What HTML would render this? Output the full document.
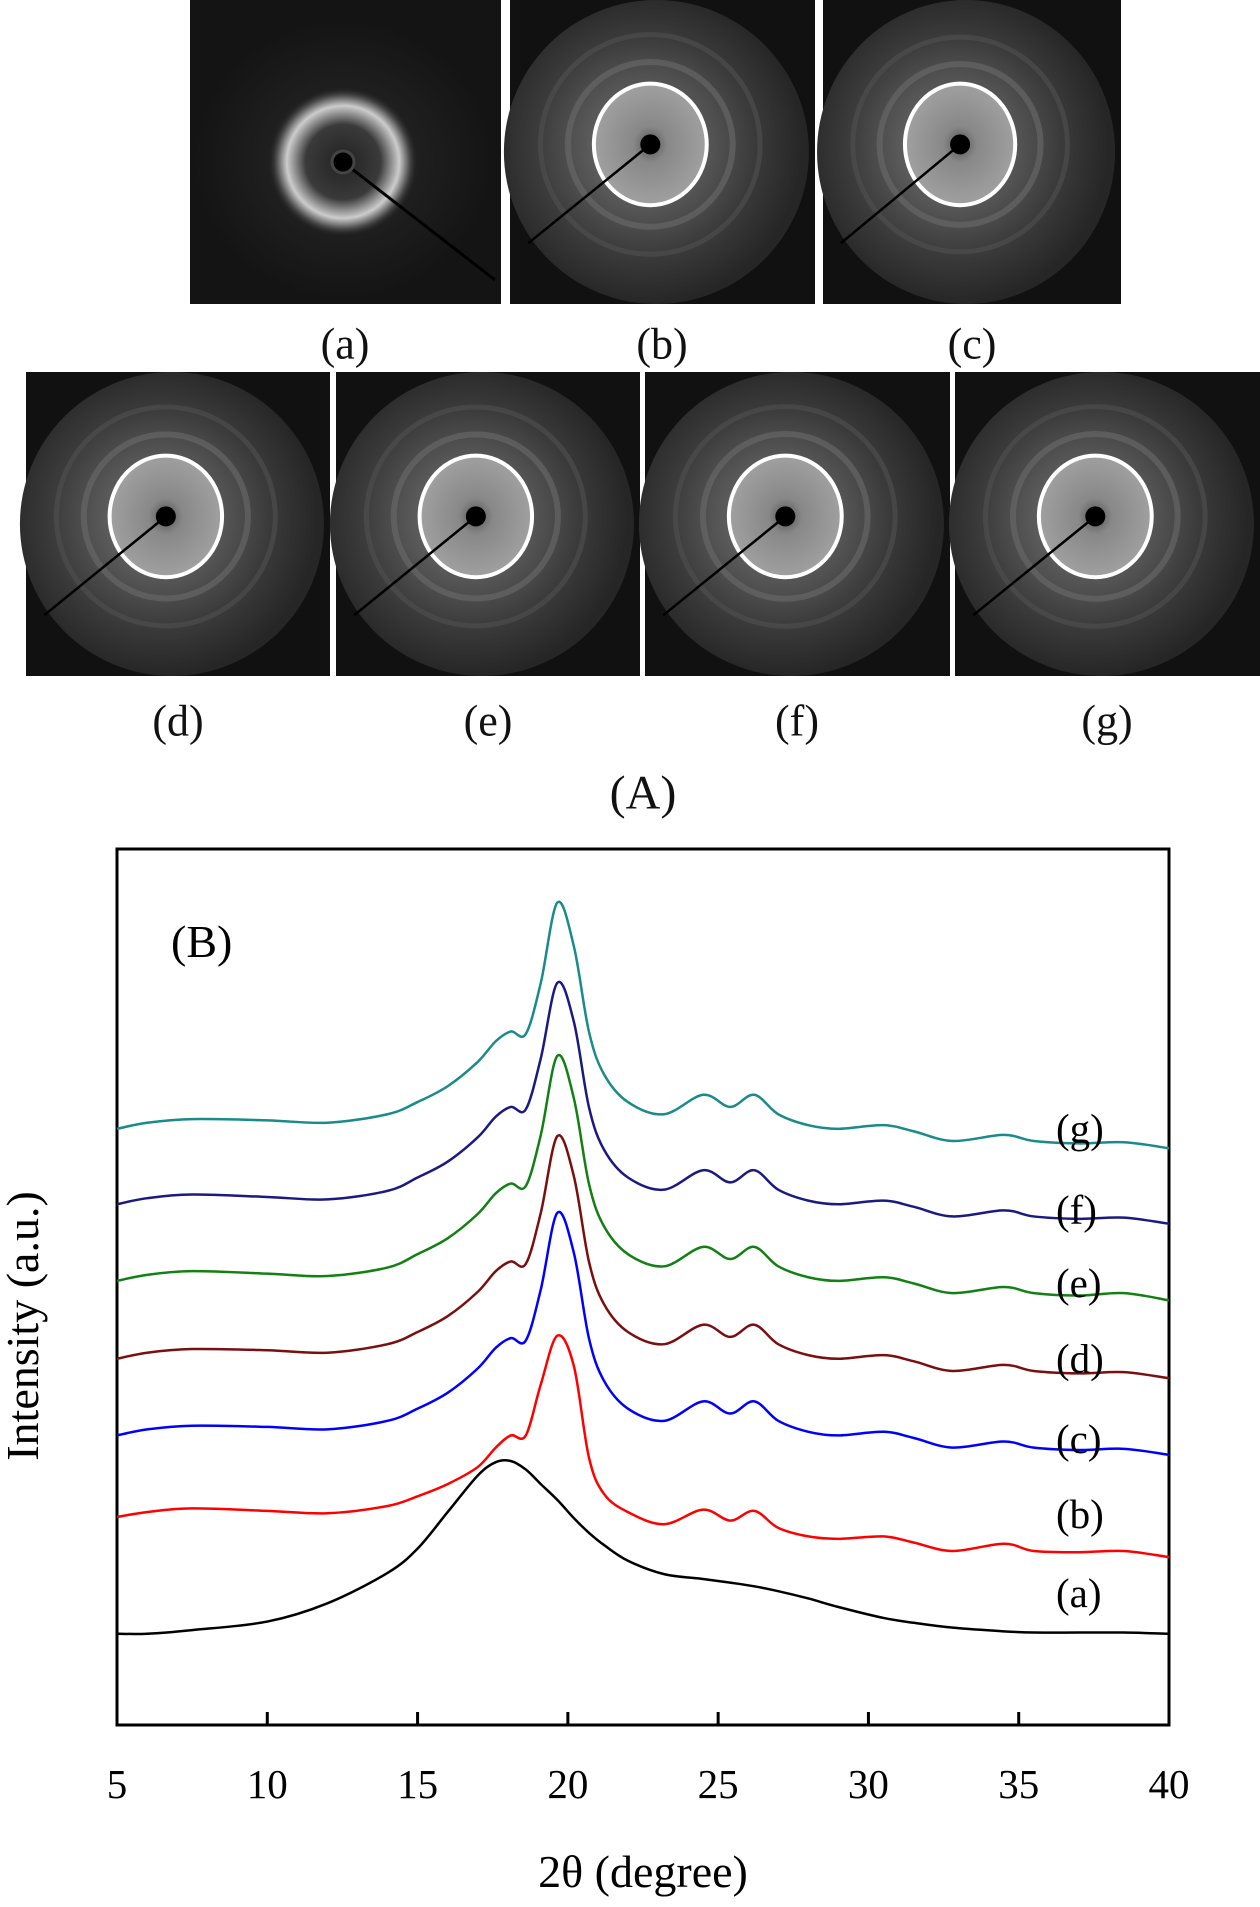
<!DOCTYPE html>
<html><head><meta charset="utf-8"><style>
body{margin:0;background:#fff;width:1260px;height:1907px;overflow:hidden;position:relative;font-family:"Liberation Serif",serif}
.lbl{position:absolute;font-size:44px;transform:translate(-50%,-50%);color:#111;white-space:nowrap}
</style></head><body>
<svg id="pats" width="1260" height="820" style="position:absolute;left:0;top:0">
<defs>
<radialGradient id="disc" cx="0.46" cy="0.48" r="0.52"><stop offset="0" stop-color="#7a7a7a"/><stop offset="0.35" stop-color="#5a5a5a"/><stop offset="0.7" stop-color="#3a3a3a"/><stop offset="1" stop-color="#262626"/></radialGradient>
<radialGradient id="inner" cx="0.5" cy="0.5" r="0.5"><stop offset="0" stop-color="#555"/><stop offset="0.3" stop-color="#888"/><stop offset="1" stop-color="#a0a0a0"/></radialGradient>
<radialGradient id="glowA" cx="0.5" cy="0.5" r="0.5"><stop offset="0" stop-color="#222"/><stop offset="0.5" stop-color="#3a3a3a"/><stop offset="0.75" stop-color="#ccc"/><stop offset="0.86" stop-color="#666"/><stop offset="1" stop-color="#1e1e1e" stop-opacity="0"/></radialGradient>
<radialGradient id="bgA" cx="0.5" cy="0.5" r="0.5"><stop offset="0" stop-color="#2a2a2a"/><stop offset="1" stop-color="#141414"/></radialGradient>
<clipPath id="clipA"><rect x="190" y="0" width="311" height="304"/></clipPath>
</defs>
<g clip-path="url(#clipA)">
<rect x="190" y="0" width="311" height="304" fill="#141414"/>
<ellipse cx="343" cy="160" rx="150" ry="140" fill="url(#bgA)"/>
<ellipse cx="343" cy="162" rx="75" ry="75" fill="url(#glowA)"/>
<line x1="343" y1="162" x2="495" y2="280" stroke="#000" stroke-width="3"/>
<circle cx="343" cy="162" r="11" fill="#000" stroke="#444" stroke-width="3"/>
</g>
</svg>
<div class="lbl" style="left:345px;top:344px">(a)</div>
<div class="lbl" style="left:662px;top:344px">(b)</div>
<div class="lbl" style="left:972px;top:344px">(c)</div>
<div class="lbl" style="left:178px;top:721px">(d)</div>
<div class="lbl" style="left:488px;top:721px">(e)</div>
<div class="lbl" style="left:797px;top:721px">(f)</div>
<div class="lbl" style="left:1107px;top:721px">(g)</div>
<div class="lbl" style="left:643px;top:793px;font-size:48px">(A)</div>
<svg id="chart" width="1260" height="1907" style="position:absolute;left:0;top:0;pointer-events:none"></svg>
<script>
const NS="http://www.w3.org/2000/svg";
const pats=document.getElementById('pats');
const panels=[["b",510,0,305,304],["c",823,0,298,304],["d",26,372,304,304],["e",336,372,304,304],["f",645,372,305,304],["g",955,372,305,304]];
panels.forEach(p=>{
 const g=document.createElementNS(NS,'g');
 
 
 const x=p[1],y=p[2],w=p[3],h=p[4],cx=x+w*0.46,cy=y+h*0.475;
 g.innerHTML=`<rect x="${x}" y="${y}" width="${w}" height="${h}" fill="#111"/>
 <ellipse cx="${x+w*0.48}" cy="${y+h*0.5}" rx="${w*0.5}" ry="${h*0.5}" fill="url(#disc)"/>
 <circle cx="${cx}" cy="${cy}" r="${w*0.27}" fill="none" stroke="#6a6a6a" stroke-width="6" opacity="0.6"/>
 <circle cx="${cx}" cy="${cy}" r="${w*0.36}" fill="none" stroke="#505050" stroke-width="5" opacity="0.6"/>
 <ellipse cx="${cx}" cy="${cy}" rx="${w*0.185}" ry="${h*0.2}" fill="url(#inner)" stroke="#fff" stroke-width="4"/>
 <line x1="${cx}" y1="${cy}" x2="${x+w*0.06}" y2="${y+h*0.8}" stroke="#000" stroke-width="2.5"/>
 <circle cx="${cx}" cy="${cy}" r="10" fill="#000"/>`;
 pats.appendChild(g);
});

const xs=[5,6,7.5,10,12,14,15,16,17,17.6,18.1,18.6,19.1,19.65,20.2,20.7,21.2,22,23.2,24.5,25.4,26.2,27,28,29,30.5,31.5,32.8,34.5,35.5,37,38.5,40];
const seriesA=[75,75,78,85,100,125,145,175,205,216,217,210,198,185,170,158,148,135,124,120,117,114,110,104,97,88,84,80,77,76,76,76,75];
const seriesB=[171,175,178,176,174,180,188,198,212,228,238,238,280,320,295,220,190,175,165,177,168,176,162,155,153,155,150,143,149,143,142,143,138];
const seriesC=[238,243,246,245,243,250,260,273,293,310,318,316,358,421,388,318,283,260,250,266,256,266,250,241,238,241,236,228,233,228,226,227,222];
const seriesD=[301,306,309,308,306,313,323,336,356,373,381,379,421,484,451,381,346,323,313,329,319,329,313,304,301,304,299,291,296,291,289,290,285];
const seriesE=[365,370,373,371,369,376,387,400,420,437,445,443,485,550,515,445,410,387,377,393,383,393,377,368,365,368,363,355,360,355,353,355,349];
const seriesF=[428,433,436,434,432,439,450,463,483,500,508,506,548,610,578,508,473,450,440,456,446,456,440,431,428,431,426,418,423,418,416,417,412];
const seriesG=[490,495,498,497,495,502,512,525,545,562,570,568,610,676,640,570,535,512,502,518,508,518,502,493,490,493,488,480,485,480,478,479,474];
const seriesNames=["a","b","c","d","e","f","g"];
const seriesColors=["#000000","#ff0000","#0000ff","#7a0f0f","#128012","#1a1a80","#1a8a8a"];
const xTicks=[5,10,15,20,25,30,35,40];
const yMin=0,yMax=720,xMin=5,xMax=40;
const L=117,R=1169,T=849,B=1725;
const X=v=>L+(v-xMin)/(xMax-xMin)*(R-L);
const Y=v=>B-(v-yMin)/(yMax-yMin)*(B-T);
const svg=document.getElementById('chart');
function el(t,a){const e=document.createElementNS(NS,t);for(const k in a)e.setAttribute(k,a[k]);svg.appendChild(e);return e;}
const frame=el('rect',{x:L,y:T,width:R-L,height:B-T,fill:'none',stroke:'#000','stroke-width':3});


xTicks.forEach(t=>{
 const tk=el('line',{x1:X(t),x2:X(t),y1:B,y2:B-13,stroke:'#000','stroke-width':3});
 
 
 const tl=el('text',{x:X(t),y:1798,'text-anchor':'middle','font-size':41,'font-family':'Liberation Serif, serif'});
 tl.textContent=t;
 
 
});
function path(ys){
 const p=xs.map((x,i)=>[X(x),Y(ys[i])]);
 let d='M'+p[0][0]+','+p[0][1];
 for(let i=0;i<p.length-1;i++){
  const p0=p[Math.max(0,i-1)],p1=p[i],p2=p[i+1],p3=p[Math.min(p.length-1,i+2)];
  const c1=[p1[0]+(p2[0]-p0[0])/6,p1[1]+(p2[1]-p0[1])/6],c2=[p2[0]-(p3[0]-p1[0])/6,p2[1]-(p3[1]-p1[1])/6];
  d+=` C${c1[0]},${c1[1]} ${c2[0]},${c2[1]} ${p2[0]},${p2[1]}`;
 }
 return d;
}
const all=[seriesA,seriesB,seriesC,seriesD,seriesE,seriesF,seriesG];
const labelY=[1310,1245,1183,1117,1055,995,928];
all.forEach((s,i)=>{
 const pe=el('path',{d:path(s),fill:'none',stroke:seriesColors[i],'stroke-width':2.5});
 
 
 const t=el('text',{x:1056,y:labelY[i]*1.2162+14,'font-size':41,'font-family':'Liberation Serif, serif'});
 t.textContent='('+seriesNames[i]+')';
 
 
});
const bt=el('text',{x:171,y:957,'font-size':46,'font-family':'Liberation Serif, serif'});
bt.textContent='(B)';


const xt=el('text',{x:643,y:1887,'text-anchor':'middle','font-size':46,'font-family':'Liberation Serif, serif'});
xt.textContent='2θ (degree)';


const yt=el('text',{x:0,y:0,'text-anchor':'middle','font-size':46,'font-family':'Liberation Serif, serif',transform:'translate(38,1326) rotate(-90)'});
yt.textContent='Intensity (a.u.)';


</script>
</body></html>
